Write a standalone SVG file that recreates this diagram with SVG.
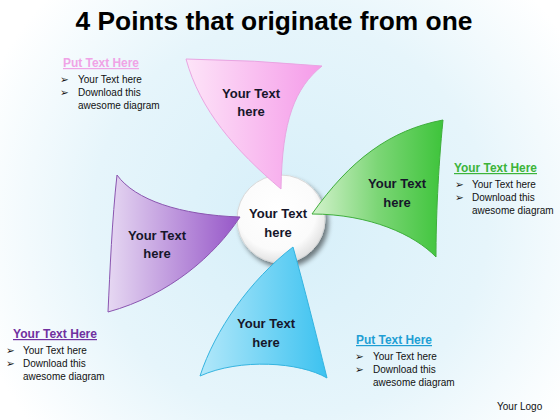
<svg xmlns="http://www.w3.org/2000/svg" width="560" height="420" viewBox="0 0 560 420">
<defs>
<radialGradient id="bg" cx="290" cy="220" r="330" gradientUnits="userSpaceOnUse">
<stop offset="0" stop-color="#d6eff9"/>
<stop offset="0.6" stop-color="#e6f5fb"/>
<stop offset="1" stop-color="#ffffff"/>
</radialGradient>
<linearGradient id="gPink" x1="0" y1="0" x2="1" y2="0">
<stop offset="0" stop-color="#fde4f8"/>
<stop offset="1" stop-color="#f59be9"/>
</linearGradient>
<linearGradient id="gGreen" x1="0" y1="0" x2="1" y2="0">
<stop offset="0" stop-color="#d3f2cc"/>
<stop offset="0.5" stop-color="#7cd676"/>
<stop offset="1" stop-color="#3ec43b"/>
</linearGradient>
<linearGradient id="gPurple" x1="0" y1="0" x2="1" y2="0">
<stop offset="0" stop-color="#e6d8f2"/>
<stop offset="1" stop-color="#9656c8"/>
</linearGradient>
<linearGradient id="gBlue" x1="0" y1="0" x2="1" y2="0">
<stop offset="0" stop-color="#b2e8fa"/>
<stop offset="1" stop-color="#3cc2f0"/>
</linearGradient>
<radialGradient id="gCircle" cx="0.45" cy="0.4" r="0.6">
<stop offset="0" stop-color="#ffffff"/>
<stop offset="0.75" stop-color="#fbfbfb"/>
<stop offset="1" stop-color="#e2e2e2"/>
</radialGradient>
<filter id="shadow" x="-30%" y="-30%" width="160%" height="160%">
<feGaussianBlur in="SourceAlpha" stdDeviation="2.5"/>
<feOffset dx="3" dy="4" result="b"/>
<feComponentTransfer><feFuncA type="linear" slope="0.5"/></feComponentTransfer>
<feMerge><feMergeNode/><feMergeNode in="SourceGraphic"/></feMerge>
</filter>
</defs>
<style>
.title{font-family:"Liberation Sans",Arial,sans-serif;font-weight:bold;font-size:26px;fill:#000}
.lbl{font-family:"Liberation Sans",Arial,sans-serif;font-weight:bold;font-size:13px;fill:#16162a;text-anchor:middle}
.hdr{font-family:"Liberation Sans",Arial,sans-serif;font-weight:bold;font-size:12px;text-decoration:underline}
.txt{font-family:"Liberation Sans",Arial,sans-serif;font-size:10px;fill:#111}
.bul{font-family:"DejaVu Sans",sans-serif;font-size:10.5px;fill:#111}
</style>
<rect width="560" height="420" fill="url(#bg)"/>
<text class="title" x="274" y="30" text-anchor="middle" textLength="397" lengthAdjust="spacingAndGlyphs">4 Points that originate from one</text>

<g id="center">
<circle cx="281" cy="219" r="44" fill="url(#gCircle)" stroke="#d8d8d8" stroke-width="1" filter="url(#shadow)"/>
</g>

<g id="pink">
<path d="M186,59 Q255,60 322,66 C295,88 282,120 281,189 C235,150 200,110 186,59 Z" fill="url(#gPink)" stroke="#e9a5e2" stroke-width="1"/>
<text class="lbl" x="251" y="98">Your Text</text>
<text class="lbl" x="251" y="116">here</text>
</g>

<g id="green">
<path d="M312,214 C350,160 390,130 443,120 C438,170 436,220 436,257 C415,235 370,214 312,214 Z" fill="url(#gGreen)" stroke="#3fae3c" stroke-width="1"/>
<text class="lbl" x="397" y="188">Your Text</text>
<text class="lbl" x="397" y="207">here</text>
</g>

<g id="purple">
<path d="M117,175 C135,200 180,215 240,217 C215,255 170,295 108,312 C110,270 112,220 117,175 Z" fill="url(#gPurple)" stroke="#8a55b0" stroke-width="1"/>
<text class="lbl" x="157" y="240">Your Text</text>
<text class="lbl" x="157" y="258">here</text>
</g>

<g id="blue">
<path d="M293,247 C305,290 315,330 327,378 C300,362 240,358 200,376 C215,330 250,280 293,247 Z" fill="url(#gBlue)" stroke="#35b4e0" stroke-width="1"/>
<text class="lbl" x="266" y="328">Your Text</text>
<text class="lbl" x="266" y="347">here</text>
</g>

<g id="center-label">
<text class="lbl" x="278" y="218">Your Text</text>
<text class="lbl" x="278" y="237">here</text>
</g>

<g id="note-pink">
<text class="hdr" x="63" y="67" fill="#f0a3e6" textLength="76" lengthAdjust="spacingAndGlyphs">Put Text Here</text>
<text class="bul" x="60" y="83">➢</text>
<text class="txt" x="78" y="83">Your Text here</text>
<text class="bul" x="60" y="96">➢</text>
<text class="txt" x="78" y="96">Download this</text>
<text class="txt" x="78" y="109">awesome diagram</text>
</g>

<g id="note-green">
<text class="hdr" x="454" y="172" fill="#3cb43a" textLength="83" lengthAdjust="spacingAndGlyphs">Your Text Here</text>
<text class="bul" x="455" y="188">➢</text>
<text class="txt" x="472" y="188">Your Text here</text>
<text class="bul" x="455" y="201">➢</text>
<text class="txt" x="472" y="201">Download this</text>
<text class="txt" x="472" y="214">awesome diagram</text>
</g>

<g id="note-purple">
<text class="hdr" x="13" y="338" fill="#7030a0" textLength="84" lengthAdjust="spacingAndGlyphs">Your Text Here</text>
<text class="bul" x="6" y="354">➢</text>
<text class="txt" x="23" y="354">Your Text here</text>
<text class="bul" x="6" y="367">➢</text>
<text class="txt" x="23" y="367">Download this</text>
<text class="txt" x="23" y="380">awesome diagram</text>
</g>

<g id="note-blue">
<text class="hdr" x="356" y="344" fill="#1e9fd4" textLength="76" lengthAdjust="spacingAndGlyphs">Put Text Here</text>
<text class="bul" x="355" y="360">➢</text>
<text class="txt" x="373" y="360">Your Text here</text>
<text class="bul" x="355" y="373">➢</text>
<text class="txt" x="373" y="373">Download this</text>
<text class="txt" x="373" y="386">awesome diagram</text>
</g>

<g id="logo">
<text class="txt" x="497" y="410">Your Logo</text>
</g>
<g id="connectors"/>
</svg>
